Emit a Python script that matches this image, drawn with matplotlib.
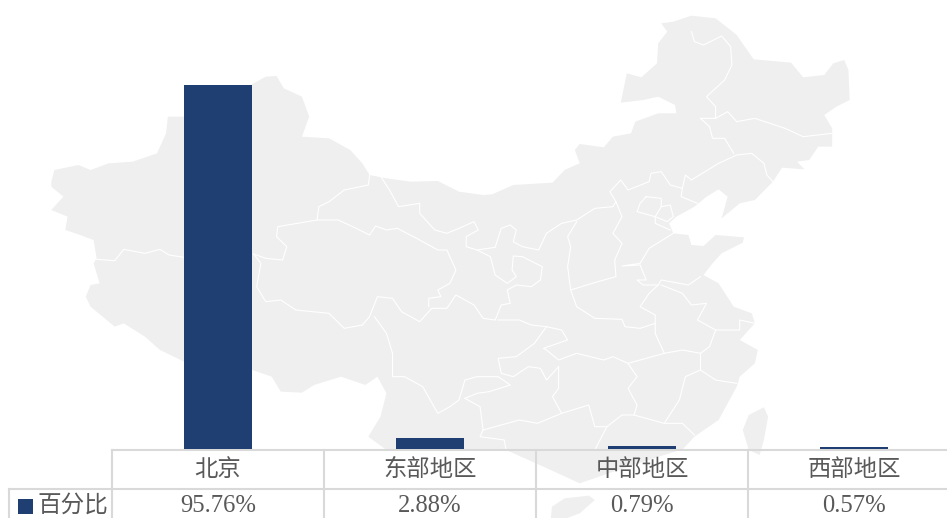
from matplotlib import pyplot as plt
from matplotlib.patches import Polygon, Rectangle

categories = ["北京", "东部地区", "中部地区", "西部地区"]
values = [95.76, 2.88, 0.79, 0.57]
series_name = "百分比"

BAR_COLOR = "#1f3f73"
MAP_COLOR = "#efefef"
GRID_COLOR = "#d9d9d9"
TEXT_COLOR = "#595959"
FONTS = ["Liberation Serif", "Noto Sans CJK SC"]

# background map, x / 1.656 and y / 3 gives pixels
mainland = [(85, 545), (90, 510), (130, 495), (150, 510), (180, 490), (220, 485), (260, 460), (275, 400),
            (278, 350), (305, 350), (420, 250), (440, 230), (458, 228), (470, 265), (500, 290), (512, 350),
            (500, 410), (545, 415), (580, 450), (600, 490), (612, 525), (640, 535), (680, 545), (725, 543),
            (760, 575), (800, 585), (815, 583), (850, 555), (915, 548), (935, 510), (960, 490), (952, 450),
            (960, 432), (1000, 442), (1015, 410), (1045, 400), (1052, 365), (1090, 340), (1120, 340),
            (1118, 315), (1090, 290), (1065, 300), (1028, 308), (1038, 220), (1062, 232), (1088, 190),
            (1090, 130), (1105, 95), (1095, 70), (1115, 65), (1145, 47), (1185, 55), (1220, 105), (1248, 178),
            (1310, 188), (1330, 232), (1365, 225), (1380, 190), (1398, 180), (1405, 210), (1407, 300),
            (1385, 320), (1365, 345), (1378, 385), (1378, 440), (1355, 440), (1340, 480), (1320, 485),
            (1332, 508), (1295, 503), (1280, 545), (1250, 600), (1225, 610), (1195, 655), (1205, 590),
            (1190, 568), (1170, 590), (1150, 620), (1120, 650), (1108, 670), (1115, 700), (1140, 705),
            (1145, 735), (1165, 738), (1185, 705), (1232, 712), (1230, 728), (1195, 760), (1180, 790),
            (1165, 825), (1190, 850), (1215, 920), (1245, 940), (1250, 970), (1225, 1020), (1255, 1050),
            (1250, 1090), (1225, 1130), (1220, 1160), (1190, 1260), (1150, 1310), (1131, 1347), (1040, 1400),
            (960, 1450), (900, 1400), (838, 1350), (640, 1350), (610, 1310), (630, 1250), (640, 1180),
            (625, 1130), (605, 1155), (565, 1130), (520, 1155), (500, 1178), (465, 1175), (450, 1130),
            (418, 1110), (305, 1085), (265, 1050), (240, 1010), (205, 970), (190, 980), (150, 920), (142, 890),
            (150, 855), (165, 850), (155, 790), (160, 775), (155, 720), (125, 700), (108, 690), (112, 650),
            (85, 630), (105, 590), (85, 560)]
hainan = [(914, 1520), (935, 1495), (975, 1487), (985, 1500), (960, 1540), (930, 1560), (912, 1560)]
taiwan = [(1230, 1290), (1240, 1245), (1265, 1222), (1272, 1250), (1265, 1320), (1258, 1365), (1240, 1350)]
borders = [
    [(612, 525), (610, 555), (570, 570), (545, 605), (528, 620), (525, 660), (460, 680), (458, 710), (475, 740),
     (468, 780), (440, 775), (420, 762)],
    [(160, 778), (190, 782), (205, 748), (240, 760), (265, 748), (280, 765), (305, 772)],
    [(420, 762), (432, 790), (425, 860), (440, 905), (465, 900), (490, 930), (545, 940), (570, 985), (600, 975),
     (612, 950), (625, 890), (650, 895), (665, 935), (695, 965), (715, 925), (740, 925), (755, 885), (785, 915),
     (800, 955), (820, 960), (830, 915), (845, 910), (840, 870), (855, 855), (880, 860), (895, 840), (898, 800),
     (865, 770), (850, 768), (848, 810), (855, 830), (840, 850), (820, 825), (812, 770), (790, 750), (772, 740),
     (772, 710), (792, 690), (785, 665), (760, 685), (740, 700), (720, 690), (695, 640), (695, 610), (660, 620),
     (645, 570), (630, 528)],
    [(525, 660), (560, 660), (590, 685), (612, 705), (622, 678), (640, 690), (658, 685), (690, 715), (725, 750),
     (740, 750), (755, 810), (745, 850), (725, 870), (730, 890), (710, 895), (710, 920)],
    [(790, 750), (820, 742), (830, 685), (845, 675), (855, 690), (850, 725), (865, 740), (892, 750), (905, 700),
     (930, 670), (955, 660), (985, 625), (1015, 620), (1020, 605), (1010, 575), (1028, 540), (1040, 570),
     (1075, 545), (1078, 520), (1095, 515), (1110, 555), (1130, 565), (1135, 525), (1145, 540), (1190, 490),
     (1220, 465), (1245, 460), (1265, 490), (1270, 525), (1280, 545)],
    [(1160, 355), (1185, 355), (1205, 335), (1220, 365), (1250, 355), (1275, 370), (1300, 385), (1330, 410),
     (1378, 400)],
    [(1145, 95), (1150, 125), (1165, 135), (1195, 108), (1210, 140), (1212, 195), (1200, 240), (1170, 290),
     (1185, 320), (1185, 355)],
    [(1160, 355), (1175, 380), (1180, 415), (1200, 415), (1215, 460)],
    [(1130, 565), (1128, 590), (1155, 610)],
    [(1020, 605), (1030, 650), (1015, 700), (1030, 730), (1018, 780), (1020, 830), (990, 845), (945, 870),
     (940, 800), (945, 740), (940, 710), (955, 665)],
    [(1070, 590), (1095, 595), (1095, 620), (1085, 650), (1055, 635), (1060, 610), (1070, 590)],
    [(1095, 620), (1110, 615), (1115, 650), (1105, 665), (1085, 650), (1085, 670), (1110, 690)],
    [(1115, 700), (1075, 745), (1060, 790), (1030, 798), (1060, 795), (1070, 840), (1055, 840), (1065, 855),
     (1090, 855), (1095, 840), (1140, 855), (1160, 830)],
    [(945, 870), (955, 920), (985, 955), (1030, 958), (1035, 980), (1060, 985), (1085, 970), (1085, 945),
     (1060, 920), (1075, 880), (1090, 855)],
    [(1095, 855), (1130, 880), (1145, 915), (1170, 910), (1155, 960), (1185, 990), (1225, 990), (1225, 960),
     (1250, 970)],
    [(1185, 990), (1175, 1040), (1160, 1060), (1130, 1050), (1100, 1060), (1085, 1000), (1085, 970)],
    [(1100, 1060), (1060, 1080), (1040, 1090), (1015, 1070), (1000, 1080), (955, 1060), (925, 1080), (905, 1050),
     (900, 1045), (940, 1020), (930, 990), (905, 980), (880, 975), (860, 960), (825, 960)],
    [(905, 980), (885, 1030), (855, 1070), (825, 1075), (830, 1120), (850, 1130), (875, 1100), (895, 1105),
     (905, 1140), (925, 1100)],
    [(925, 1100), (925, 1165), (915, 1190), (930, 1240)],
    [(1040, 1090), (1055, 1130), (1040, 1165), (1055, 1215), (1050, 1245), (1070, 1255), (1100, 1270),
     (1125, 1200), (1135, 1130), (1160, 1110), (1160, 1060)],
    [(1160, 1110), (1185, 1140), (1220, 1150)],
    [(1100, 1270), (1130, 1270), (1150, 1305)],
    [(770, 1195), (790, 1180), (810, 1175), (845, 1155), (825, 1130), (790, 1130), (770, 1140), (760, 1200),
     (745, 1220), (725, 1240), (700, 1160), (670, 1130), (650, 1130), (650, 1060), (640, 1000), (620, 950)],
    [(770, 1195), (795, 1220), (800, 1290), (860, 1260), (890, 1270), (930, 1240), (975, 1215), (985, 1280),
     (1005, 1280), (1030, 1245), (1050, 1245)],
    [(1005, 1280), (985, 1350)],
    [(800, 1290), (795, 1310), (835, 1320), (838, 1350)],
]


def toPixels(points):
    return [(p[0] / 1.656, p[1] / 3) for p in points]


fig = plt.figure(figsize=(9.47, 5.18), dpi=100)

# full figure axes in pixels, holds the map and the data table
bg = fig.add_axes([0, 0, 1, 1])
bg.set_xlim(0, 947)
bg.set_ylim(518, 0)
bg.axis("off")

for shape in [mainland, hainan, taiwan]:
    bg.add_patch(Polygon(toPixels(shape), closed=True, facecolor=MAP_COLOR, edgecolor="none"))
for line in borders:
    xy = toPixels(line)
    bg.plot([p[0] for p in xy], [p[1] for p in xy], color="white", lw=0.8)

# bars, one category is 212 px wide, 4 of them run past the right edge
ax = fig.add_axes([112 / 947, (518 - 449) / 518, 848 / 947, 380 / 518])
ax.patch.set_alpha(0)
ax.bar(range(len(values)), values, width=0.32, color=BAR_COLOR)
ax.set_xlim(-0.5, 3.5)
ax.set_ylim(0, 100)
ax.axis("off")

# data table
bg.plot([112, 947], [449.5, 449.5], color=GRID_COLOR, lw=1.5)
bg.plot([9, 947], [488.5, 488.5], color=GRID_COLOR, lw=1.5)
bg.plot([9, 9], [488.5, 518], color=GRID_COLOR, lw=1.5)
for i in range(len(categories)):
    left = 112 + i * 212
    bg.plot([left, left], [449.5, 518], color=GRID_COLOR, lw=1.5)
    bg.text(left + 106, 470, categories[i], ha="center", va="center", fontsize=16.8,
            color=TEXT_COLOR, family=FONTS, fontweight="light")
    bg.text(left + 106, 506, "%.2f%%" % values[i], ha="center", va="center", fontsize=17.7,
            color=TEXT_COLOR, family=FONTS)

bg.add_patch(Rectangle((18, 499), 15, 15, facecolor=BAR_COLOR, edgecolor="none"))
bg.text(72.5, 505.5, series_name, ha="center", va="center", fontsize=17,
        color=TEXT_COLOR, family=FONTS, fontweight="light")

fig.savefig("out.png", dpi=100)
